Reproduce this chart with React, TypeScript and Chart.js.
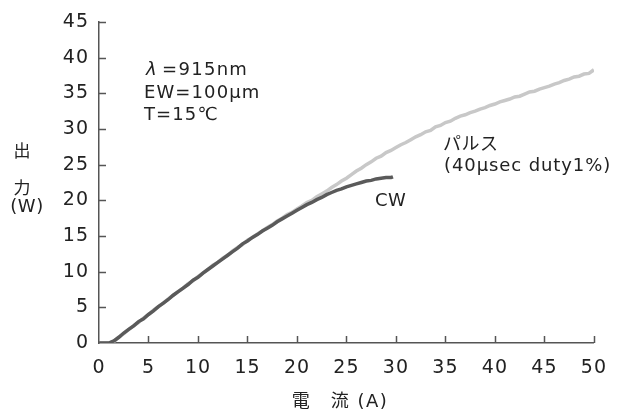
import React, { useEffect, useRef } from "react";
import { Chart, registerables } from "chart.js";

Chart.register(...registerables);

// Current (A) for pulse measurement
const currentPulse = [
  0, 0.5, 1, 1.5, 2, 2.5, 3, 3.5, 4, 4.5, 5, 5.5, 6, 6.5, 7, 7.5, 8, 8.5, 9, 9.5,
  10, 10.5, 11, 11.5, 12, 12.5, 13, 13.5, 14, 14.5, 15, 15.5, 16, 16.5, 17, 17.5, 18, 18.5, 19, 19.5,
  20, 20.5, 21, 21.5, 22, 22.5, 23, 23.5, 24, 24.5, 25, 25.5, 26, 26.5, 27, 27.5, 28, 28.5, 29, 29.5,
  30, 30.5, 31, 31.5, 32, 32.5, 33, 33.5, 34, 34.5, 35, 35.5, 36, 36.5, 37, 37.5, 38, 38.5, 39, 39.5,
  40, 40.5, 41, 41.5, 42, 42.5, 43, 43.5, 44, 44.5, 45, 45.5, 46, 46.5, 47, 47.5, 48, 48.5, 49, 49.5, 50,
];
// Output (W), pulse (40µsec duty1%)
const powerPulse = [
  0, 0, 0, 0.2, 0.8, 1.3, 1.9, 2.4, 2.9, 3.5, 4.0, 4.6, 5.1, 5.6, 6.2, 6.7, 7.2, 7.7, 8.3, 8.7,
  9.3, 9.8, 10.3, 10.9, 11.3, 11.9, 12.3, 12.9, 13.4, 13.8, 14.4, 14.8, 15.3, 15.7, 16.2, 16.6, 17.1, 17.5, 18.0, 18.3,
  18.8, 19.2, 19.7, 20.0, 20.5, 20.9, 21.3, 21.8, 22.2, 22.7, 23.1, 23.6, 24.1, 24.5, 25.0, 25.4, 25.9, 26.2, 26.7, 27.0,
  27.4, 27.8, 28.1, 28.5, 28.9, 29.2, 29.6, 29.8, 30.3, 30.5, 30.9, 31.1, 31.5, 31.8, 32.0, 32.3, 32.5, 32.8, 33.0, 33.3,
  33.5, 33.8, 34.0, 34.2, 34.5, 34.6, 34.9, 35.2, 35.3, 35.6, 35.8, 36.0, 36.3, 36.5, 36.8, 37.0, 37.3, 37.4, 37.7, 37.8, 38.3,
];

// Current (A) for CW measurement
const currentCW = [
  0, 0.5, 1, 1.5, 2, 2.5, 3, 3.5, 4, 4.5, 5, 5.5, 6, 6.5, 7, 7.5, 8, 8.5, 9, 9.5,
  10, 10.5, 11, 11.5, 12, 12.5, 13, 13.5, 14, 14.5, 15, 15.5, 16, 16.5, 17, 17.5, 18, 18.5, 19, 19.5,
  20, 20.5, 21, 21.5, 22, 22.5, 23, 23.5, 24, 24.5, 25, 25.5, 26, 26.5, 27, 27.5, 28, 28.5, 29, 29.5, 29.7,
];
// Output (W), CW
const powerCW = [
  0, 0, 0, 0.3, 0.8, 1.4, 1.9, 2.4, 3.0, 3.4, 4.0, 4.5, 5.1, 5.6, 6.1, 6.7, 7.2, 7.7, 8.2, 8.8,
  9.2, 9.8, 10.3, 10.8, 11.3, 11.8, 12.3, 12.8, 13.3, 13.9, 14.3, 14.8, 15.2, 15.7, 16.1, 16.5, 17.0, 17.4, 17.8, 18.2,
  18.6, 19.0, 19.4, 19.7, 20.1, 20.4, 20.8, 21.1, 21.4, 21.6, 21.9, 22.1, 22.3, 22.5, 22.7, 22.8, 23.0, 23.1, 23.2, 23.2, 23.3,
];

const xMin = 0, xMax = 50, xStep = 5;
const yMin = 0, yMax = 45, yStep = 5;

const LATIN = '"DejaVu Sans", "Noto Sans CJK JP", sans-serif';
const CJK = '"Noto Sans CJK JP", "DejaVu Sans", sans-serif';
const TEXT = "#222222";
const AXIS = "#555555";

function drawText(
  ctx: CanvasRenderingContext2D,
  text: string,
  x: number,
  y: number,
  font: string,
  align: CanvasTextAlign = "left",
  spacing = "1px"
) {
  ctx.save();
  ctx.font = font;
  (ctx as any).letterSpacing = spacing;
  ctx.textAlign = align;
  ctx.textBaseline = "middle";
  ctx.fillStyle = TEXT;
  ctx.fillText(text, x, y);
  ctx.restore();
}

const decorPlugin = {
  id: "decor",
  beforeDraw(chart: any) {
    chart.ctx.letterSpacing = "1px";
  },
  afterDraw(chart: any) {
    const ctx: CanvasRenderingContext2D = chart.ctx;
    const { chartArea } = chart;
    const xs = chart.scales.x;
    const ys = chart.scales.y;
    ctx.save();
    (ctx as any).letterSpacing = "0px";
    ctx.strokeStyle = AXIS;
    ctx.lineWidth = 1.5;
    ctx.beginPath();
    ys.ticks.forEach((t: any) => {
      if (t.value === yMin) return;
      const py = Math.round(ys.getPixelForValue(t.value)) + 0.5;
      ctx.moveTo(chartArea.left, py);
      ctx.lineTo(chartArea.left + 7, py);
    });
    xs.ticks.forEach((t: any) => {
      if (t.value === xMin) return;
      const px = Math.round(xs.getPixelForValue(t.value)) + 0.5;
      ctx.moveTo(px, chartArea.bottom);
      ctx.lineTo(px, chartArea.bottom - 7);
    });
    ctx.stroke();
    ctx.restore();

    const L = chartArea.left;
    const T = chartArea.top;
    // conditions
    drawText(ctx, "λ", L + 47, T + 48, "italic 18px " + LATIN, "left", "0px");
    drawText(ctx, "=915nm", L + 63, T + 48, "18px " + LATIN, "left", "1.3px");
    drawText(ctx, "EW=100μm", L + 45, T + 71, "18px " + LATIN, "left", "1.1px");
    drawText(ctx, "T=15℃", L + 45, T + 93, "18px " + LATIN, "left", "1.1px");
    // series labels
    drawText(ctx, "パルス", L + 344, T + 121, "18px " + CJK, "left", "0.5px");
    drawText(ctx, "(40μsec duty1%)", L + 345, T + 144, "18px " + LATIN, "left", "0.9px");
    drawText(ctx, "CW", L + 276, T + 179, "18px " + LATIN, "left", "0.5px");
    // y-axis title (vertical)
    drawText(ctx, "出", 22, 151, "17px " + CJK, "center", "0px");
    drawText(ctx, "力", 22, 188, "17px " + CJK, "center", "0px");
    drawText(ctx, "(W)", 27, 207, "18px " + LATIN, "center", "0.5px");
    // x-axis title
    drawText(ctx, "電　流 (A)", 340, 402, "18px " + LATIN, "center", "1.5px");
    (ctx as any).letterSpacing = "0px";
  },
};

export default function App() {
  const ref = useRef<HTMLCanvasElement | null>(null);

  useEffect(() => {
    document.body.style.margin = "0";
    const canvas = ref.current;
    if (!canvas) return;
    const chart = new Chart(canvas, {
      type: "line",
      data: {
        datasets: [
          {
            label: "CW",
            data: currentCW.map((x, i) => ({ x, y: powerCW[i] })),
            borderColor: "#5a5a5a",
            backgroundColor: "#5a5a5a",
            borderWidth: 3.5,
            pointRadius: 0,
            tension: 0,
            fill: false,
          },
          {
            label: "パルス",
            data: currentPulse.map((x, i) => ({ x, y: powerPulse[i] })),
            borderColor: "#c8c8c8",
            backgroundColor: "#c8c8c8",
            borderWidth: 3.5,
            pointRadius: 0,
            tension: 0,
            fill: false,
          },
        ],
      },
      options: {
        responsive: false,
        animation: false,
        devicePixelRatio: 1,
        layout: { padding: { left: 0, right: 25, top: 22, bottom: 0 } },
        plugins: {
          legend: { display: false },
          tooltip: { enabled: false },
          title: { display: false },
        },
        scales: {
          x: {
            type: "linear",
            min: xMin,
            max: xMax,
            grid: { display: false, drawTicks: false },
            border: { display: true, color: AXIS, width: 1.5 },
            ticks: {
              stepSize: xStep,
              padding: 14,
              color: TEXT,
              font: { family: LATIN, size: 19 },
              maxRotation: 0,
              autoSkip: false,
            },
            afterFit: (s: any) => {
              s.height = 69;
            },
          },
          y: {
            type: "linear",
            min: yMin,
            max: yMax,
            grid: { display: false, drawTicks: false },
            border: { display: true, color: AXIS, width: 1.5 },
            ticks: {
              stepSize: yStep,
              padding: 10,
              color: TEXT,
              font: { family: LATIN, size: 19 },
              autoSkip: false,
            },
            afterFit: (s: any) => {
              s.width = 99;
            },
          },
        },
      },
      plugins: [decorPlugin],
    } as any);
    return () => chart.destroy();
  }, []);

  return (
    <div style={{ width: 620, height: 412 }}>
      <canvas ref={ref} width={620} height={412} style={{ width: 620, height: 412, display: "block" }} />
    </div>
  );
}
